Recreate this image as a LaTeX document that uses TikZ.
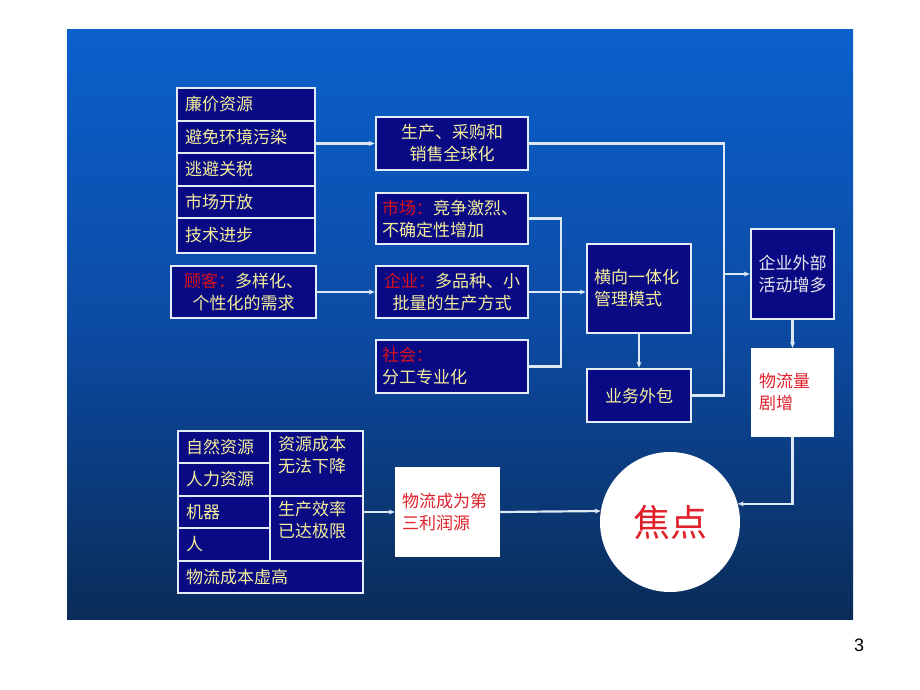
\documentclass[tikz,border=0pt]{standalone}
\usepackage{fontspec}
\setmainfont{Liberation Sans}
\newfontfamily\cjk{Noto Sans CJK SC}
\usetikzlibrary{arrows.meta,calc}
\definecolor{navy}{HTML}{0A0A84}
\definecolor{edge}{HTML}{E4ECF6}
\definecolor{wire}{HTML}{DCE8F4}
\definecolor{ylw}{HTML}{F4EE9C}
\definecolor{rd}{HTML}{D8101C}
\definecolor{rdw}{HTML}{E0202A}
\definecolor{bgtop}{HTML}{0B60CC}
\definecolor{bgmid}{HTML}{0C4BA4}
\definecolor{bgbot}{HTML}{0A2C58}
\definecolor{lgt}{HTML}{E8E8EE}
\begin{document}
\begin{tikzpicture}[x=1pt,y=-1pt,
  bx/.style={draw=edge,line width=2.6pt,fill=navy,inner sep=0pt,text=ylw,font=\cjk\fontsize{17}{22}\selectfont},
  wbx/.style={fill=white,inner sep=0pt,text=rdw,font=\cjk\fontsize{17}{22}\selectfont},
  ln/.style={draw=wire,line width=2.2pt},
  ar/.style={ln,-{Stealth[length=6pt,width=5pt]}},
  lab/.style={text=rd}]
\useasboundingbox (0,0) rectangle (920,690);
\shade[top color=bgtop, bottom color=bgbot, middle color=bgmid] (67,30) rectangle (853,619);

% list
\node[bx, minimum height=33, text width=122pt, inner xsep=8pt, align=left] (r1) at (246,104.5) {廉价资源};
\node[bx, minimum height=32, text width=122pt, inner xsep=8pt, align=left] (r2) at (246,137) {避免环境污染};
\node[bx, minimum height=33, text width=122pt, inner xsep=8pt, align=left] (r3) at (246,169.5) {逃避关税};
\node[bx, minimum height=32, text width=122pt, inner xsep=8pt, align=left] (r4) at (246,202) {市场开放};
\node[bx, minimum height=35, text width=122pt, inner xsep=8pt, align=left] (r5) at (246,235.5) {技术进步};

\node[bx, minimum width=152, minimum height=53, align=center] (gen) at (452,143.5) {生产、采购和\\销售全球化};
\node[bx, text width=140pt, inner xsep=6pt, minimum height=51, align=left] (mkt) at (452,218.5) {\textcolor{rd}{市场：}竞争激烈、\\不确定性增加};
\node[bx, minimum width=152, minimum height=52, align=center] (ent) at (452,292) {\textcolor{rd}{企业：}多品种、小\\批量的生产方式};
\node[bx, text width=140pt, inner xsep=6pt, minimum height=53, align=left] (soc) at (452,366.5) {\textcolor{rd}{社会：}\\分工专业化};
\node[bx, minimum width=145, minimum height=52, align=center] (cus) at (243.5,292) {\textcolor{rd}{顾客：}多样化、\\个性化的需求};

\node[bx, text width=90pt, inner xsep=7pt, minimum height=89, align=left] (hor) at (639,288.5) {横向一体化\\管理模式};
\node[bx, minimum width=104, minimum height=53] (out) at (639,395.5) {业务外包};
\node[bx, minimum width=83, minimum height=90, align=center, text=lgt] (ext) at (792.5,274) {企业外部\\活动增多};
\node[wbx, text width=67pt, inner xsep=8pt, minimum height=89, align=left] (surge) at (792.5,392.5) {物流量\\剧增};
\node[circle, fill=white, minimum size=140, inner sep=0pt, text=rdw, font=\cjk\fontsize{37}{40}\selectfont] (focus) at (670,522) {焦点};

% table
\node[bx, minimum height=32, text width=76pt, inner xsep=8pt, align=left] (c1) at (224,447) {自然资源};
\node[bx, minimum height=33, text width=76pt, inner xsep=8pt, align=left] (c2) at (224,479.5) {人力资源};
\node[bx, minimum height=32, text width=76pt, inner xsep=8pt, align=left] (c3) at (224,512) {机器};
\node[bx, minimum height=33, text width=76pt, inner xsep=8pt, align=left] (c4) at (224,544.5) {人};
\node[bx, minimum width=93, minimum height=65] (d1) at (316.5,463.5) {};
\node[bx, minimum width=93, minimum height=65] (d2) at (316.5,528.5) {};
\node[bx, draw=none, fill=none, anchor=north west, align=left] (d1t) at ($(d1.north west)+(8,5)$) {资源成本\\无法下降};
\node[bx, draw=none, fill=none, anchor=north west, align=left] (d2t) at ($(d2.north west)+(8,5)$) {生产效率\\已达极限};
\node[bx, minimum height=32, text width=169pt, inner xsep=8pt, align=left] (c5) at (270.5,577) {物流成本虚高};

\node[wbx, text width=91pt, inner xsep=7pt, minimum height=90, align=left] (third) at (447.5,512) {物流成为第\\三利润源};

% connectors
\draw[ar] (gen.west -| r2.east) -- (gen.west);
\draw[ar] (cus.east) -- (ent.west);
\coordinate (bk) at (561,292);
\draw[ln] (mkt.east) -| (bk) |- (soc.east);
\draw[ln] (ent.east) -- (bk);
\draw[ar] (bk) -- (bk -| hor.west);
\draw[ar] (hor.south) -- (out.north);
\coordinate (vj) at (724,274);
\draw[ln] (gen.east) -| (vj) |- (out.east);
\draw[ar] (vj) -- (ext.west);
\draw[ar] (ext.south) -- (surge.north);
\draw[ar] (surge.south) |- (focus.15);
\draw[ar] (d2.east |- third.west) -- (third.west);
\draw[ar] (third.east) -- (focus.171);

\node[font=\fontsize{18}{20}\selectfont] (pg) at (859,645) {3};
\end{tikzpicture}
\end{document}
